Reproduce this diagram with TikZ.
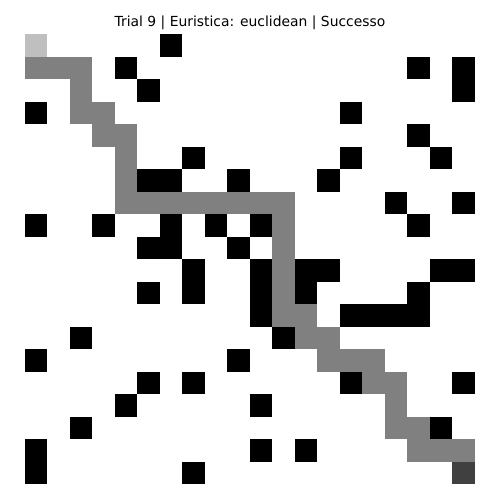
\documentclass[tikz,border=0pt]{standalone}
\usepackage{fontspec}
\setmainfont{DejaVu Sans}
\definecolor{startc}{RGB}{191,191,191}
\definecolor{pathc}{RGB}{128,128,128}
\definecolor{goalc}{RGB}{64,64,64}
\begin{document}
\begin{tikzpicture}[x=0.5pt,y=-0.5pt,
  titletext/.style={font=\fontsize{6.94pt}{8pt}\selectfont, inner sep=0pt, anchor=base}]
\useasboundingbox (0,0) rectangle (500,500);
\fill[white] (0,0) rectangle (500,500);
\newcommand{\gridcell}[3]{\fill[#1] ({25+22.5*#2},{34+22.5*#3}) rectangle ({25+22.5*(#2+1)},{34+22.5*(#3+1)});}
% obstacles
\foreach \c/\r in {6/0, 4/1,17/1,19/1, 5/2,19/2, 0/3,14/3, 17/4, 7/5,14/5,18/5,
  5/6,6/6,9/6,13/6, 16/7,19/7, 0/8,3/8,6/8,8/8,10/8,17/8, 5/9,6/9,9/9,
  7/10,10/10,12/10,13/10,18/10,19/10, 5/11,7/11,10/11,12/11,17/11,
  10/12,14/12,15/12,16/12,17/12, 2/13,11/13, 0/14,9/14, 5/15,7/15,14/15,19/15,
  4/16,10/16, 2/17,18/17, 0/18,10/18,12/18, 0/19,7/19}
  {\gridcell{black}{\c}{\r}}
% path
\foreach \c/\r in {0/1,1/1,2/1, 2/2, 2/3,3/3, 3/4,4/4, 4/5, 4/6,
  4/7,5/7,6/7,7/7,8/7,9/7,10/7,11/7, 11/8,11/9,11/10,11/11, 11/12,12/12,
  12/13,13/13, 13/14,14/14,15/14, 15/15,16/15, 16/16, 16/17,17/17, 17/18,18/18,19/18}
  {\gridcell{pathc}{\c}{\r}}
\gridcell{startc}{0}{0}
\gridcell{goalc}{19}{19}
\node[titletext] (title) at (250,26) {Trial 9 | Euristica: euclidean | Successo};
\end{tikzpicture}
\end{document}
